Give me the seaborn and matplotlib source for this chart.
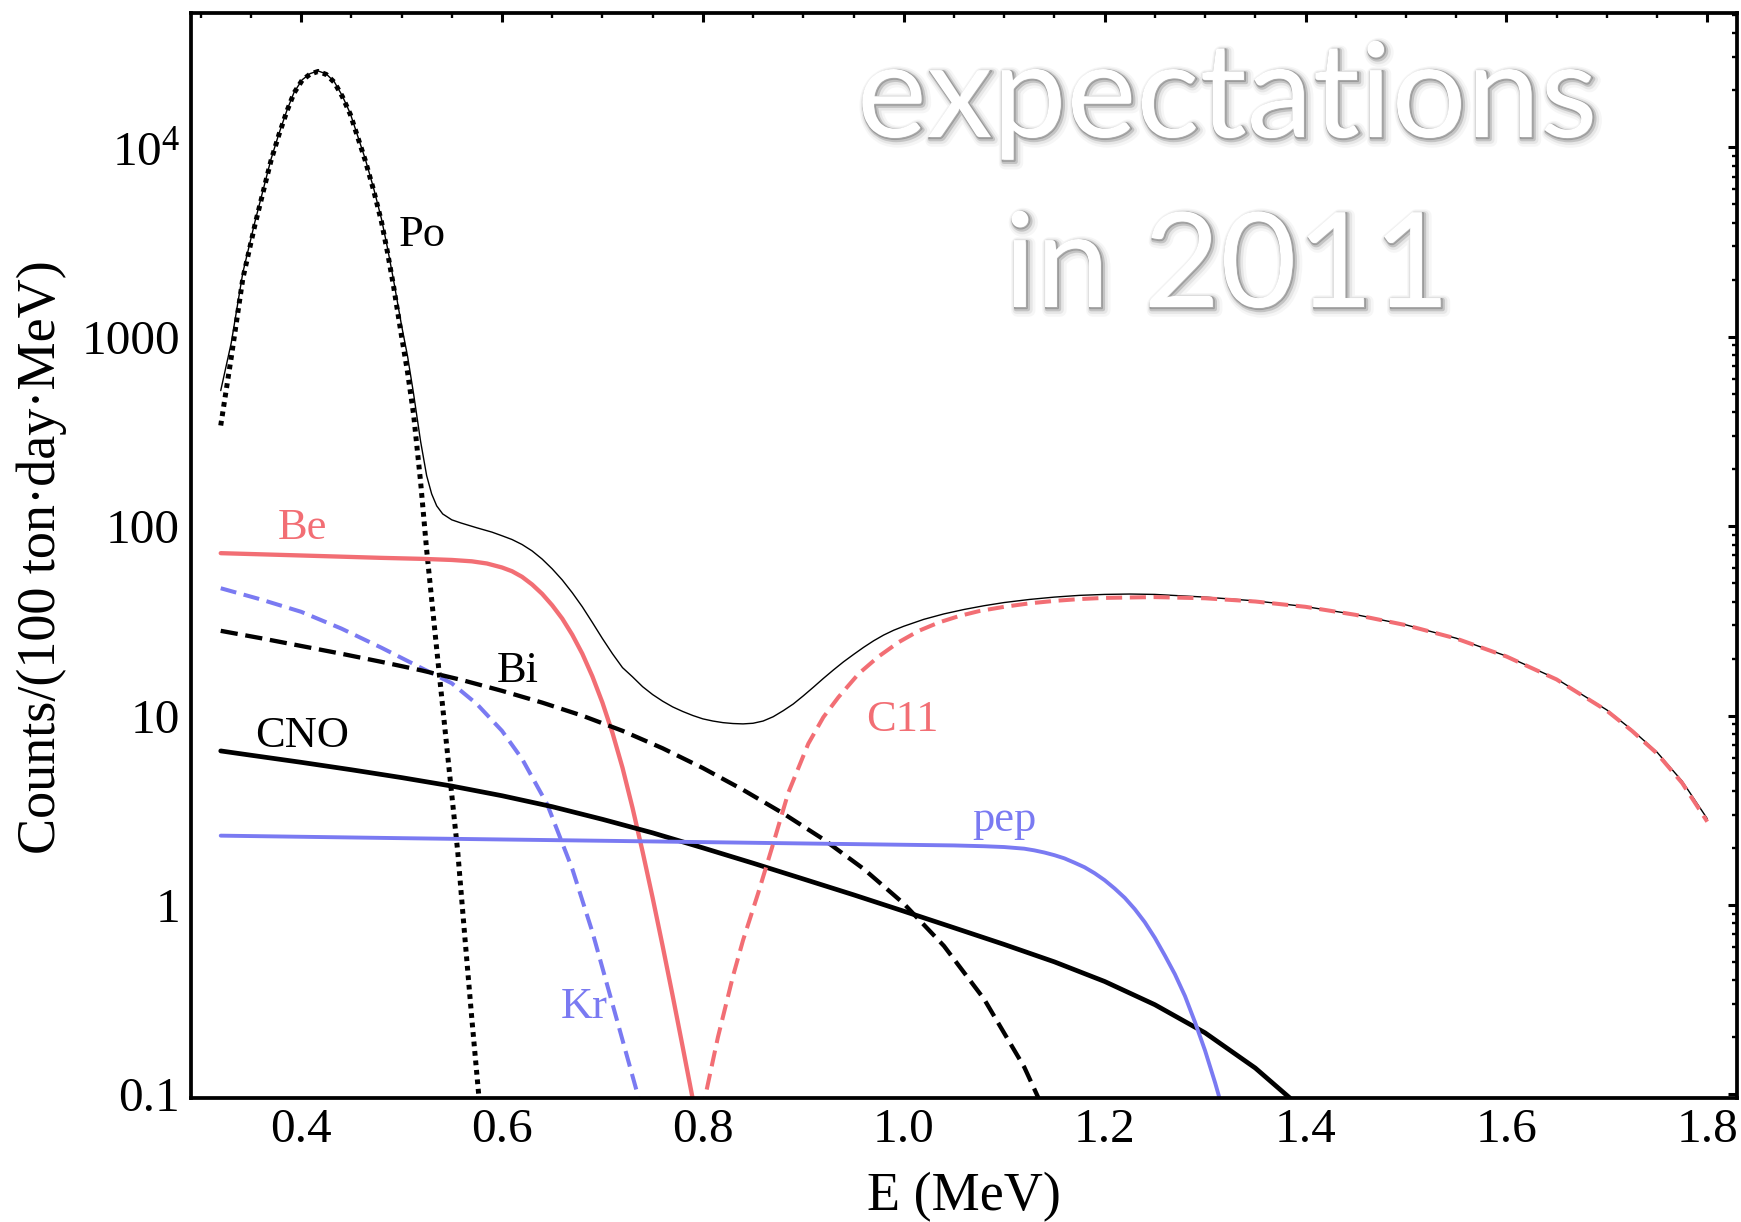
import numpy as np
import pandas as pd
import matplotlib
matplotlib.use("Agg")
import matplotlib.pyplot as plt
import matplotlib.patheffects as pe
from matplotlib.ticker import FixedLocator, FixedFormatter, MultipleLocator, LogLocator, NullFormatter
import seaborn as sns

# ---------------- data ----------------
po_E = [0.320, 0.3305, 0.342, 0.354, 0.3625, 0.370, 0.378, 0.386, 0.393, 0.401, 0.409, 0.417,
        0.425, 0.433, 0.441, 0.449, 0.456, 0.464, 0.472, 0.480, 0.486, 0.492, 0.500, 0.506,
        0.512, 0.519, 0.525, 0.535, 0.549, 0.556, 0.563, 0.570, 0.578]
po_N = [340, 780, 2030, 3890, 5900, 8500, 11700, 15600, 19400, 22600, 24400, 25200,
        24300, 22100, 18600, 14950, 11500, 8500, 6000, 4060, 2800, 1860, 1010, 650,
        390, 171, 75, 22.5, 4.3, 1.9, 0.68, 0.25, 0.085]

be_E = [0.32, 0.36, 0.40, 0.44, 0.48, 0.52, 0.55, 0.57, 0.585, 0.60, 0.61, 0.62, 0.63,
        0.64, 0.65, 0.66, 0.67, 0.68, 0.69, 0.70, 0.71, 0.72, 0.73, 0.74, 0.75, 0.76,
        0.77, 0.78, 0.79]
be_N = [72, 71, 70, 69, 68, 67.2, 66.3, 65.2, 63.5, 60.5, 57.8, 54.0, 49.2,
        43.9, 38.2, 32.5, 26.7, 21.2, 16.1, 11.7, 8.1, 5.3, 3.25, 1.91, 1.09, 0.605,
        0.33, 0.177, 0.094]

kr_E = [0.32, 0.36, 0.40, 0.44, 0.48, 0.52, 0.55, 0.575, 0.60, 0.62, 0.645, 0.67, 0.69,
        0.71, 0.735, 0.745]
kr_N = [47, 41, 35.3, 28.8, 22.8, 17.8, 14.8, 11.5, 8.3, 5.9, 3.4, 1.55, 0.72,
        0.3, 0.1, 0.065]

bi_E = [0.32, 0.36, 0.40, 0.44, 0.48, 0.52, 0.56, 0.60, 0.64, 0.68, 0.72, 0.76, 0.80,
        0.84, 0.88, 0.92, 0.96, 1.00, 1.04, 1.08, 1.12, 1.16]
bi_N = [28.0, 25.6, 23.3, 21.2, 19.2, 17.3, 15.4, 13.5, 11.7, 9.98, 8.30, 6.71, 5.28,
        4.05, 3.04, 2.22, 1.55, 1.016, 0.607, 0.318, 0.139, 0.048]

cno_E = [0.32, 0.35, 0.40, 0.45, 0.50, 0.55, 0.60, 0.65, 0.70, 0.75, 0.80, 0.85, 0.90,
         0.95, 1.00, 1.05, 1.10, 1.15, 1.20, 1.25, 1.30, 1.35, 1.40]
cno_N = [6.5, 6.17, 5.66, 5.17, 4.70, 4.24, 3.77, 3.30, 2.83, 2.40, 2.00, 1.66, 1.37,
         1.13, 0.926, 0.757, 0.618, 0.50, 0.394, 0.297, 0.211, 0.1375, 0.081]

pep_E = [0.32, 0.50, 0.70, 0.90, 1.05, 1.08, 1.10, 1.12, 1.13, 1.14, 1.15, 1.16, 1.17,
         1.18, 1.19, 1.20, 1.21, 1.22, 1.23, 1.24, 1.25, 1.26, 1.27, 1.28, 1.29, 1.30,
         1.31, 1.32]
pep_N = [2.32, 2.25, 2.18, 2.11, 2.06, 2.04, 2.02, 1.98, 1.94, 1.89, 1.83, 1.76, 1.67,
         1.58, 1.47, 1.35, 1.22, 1.09, 0.95, 0.81, 0.67, 0.54, 0.43, 0.33, 0.24, 0.17,
         0.115, 0.075]

c11_E = [0.795, 0.80, 0.815, 0.83, 0.84, 0.855, 0.87, 0.885, 0.905, 0.92, 0.935, 0.955,
         0.975, 0.995, 1.015, 1.035, 1.055, 1.075, 1.10, 1.125, 1.15, 1.175, 1.20, 1.25,
         1.30, 1.35, 1.40, 1.45, 1.50, 1.55, 1.60, 1.65, 1.70, 1.725, 1.75, 1.775, 1.80]
c11_N = [0.06, 0.085, 0.2, 0.42, 0.65, 1.15, 2.1, 3.9, 7.1, 9.8, 12.5, 16.6,
         20.5, 24.4, 28, 31.0, 33.5, 35.6, 37.5, 39.1, 40.3, 41.2, 41.8, 42.2,
         41.6, 40.0, 37.5, 34.0, 30.0, 25.5, 20.5, 15.5, 10.6, 8.3, 6.3, 4.4, 2.75]

tot_E = [0.32, 0.3305, 0.342, 0.354, 0.3625, 0.370, 0.378, 0.386, 0.393, 0.401, 0.409, 0.417,
         0.425, 0.433, 0.441, 0.449, 0.456, 0.464, 0.472, 0.480, 0.486, 0.492, 0.500, 0.506,
         0.512, 0.519, 0.525, 0.530, 0.535, 0.541, 0.55, 0.559, 0.575, 0.59, 0.60, 0.61,
         0.62, 0.63, 0.64, 0.65, 0.66, 0.67, 0.68, 0.69, 0.70, 0.71, 0.72, 0.73, 0.74,
         0.75, 0.76, 0.77, 0.78, 0.79, 0.80, 0.81, 0.82, 0.83, 0.84, 0.85, 0.86, 0.87,
         0.88, 0.89, 0.90, 0.91, 0.92, 0.93, 0.94, 0.95, 0.96, 0.97, 0.98, 0.99, 1.00,
         1.02, 1.04, 1.06, 1.08, 1.10, 1.125, 1.15, 1.175, 1.20, 1.225, 1.25, 1.30, 1.35,
         1.40, 1.45, 1.50, 1.55, 1.60, 1.65, 1.70, 1.725, 1.75, 1.775, 1.80]
tot_N = [520, 930, 2180, 4040, 6050, 8650, 11850, 15750, 19550, 22750, 24550, 25350,
         24450, 22250, 18750, 15100, 11650, 8650, 6150, 4200, 2950, 2000, 1150, 790,
         500, 280, 185, 148, 128, 116, 108, 104, 98, 93, 89, 85,
         80, 74, 67, 59.5, 52, 44.5, 37.5, 31, 25.5, 21.2, 17.9, 16.0, 14.2,
         12.9, 11.9, 11.1, 10.5, 10.0, 9.6, 9.35, 9.17, 9.07, 9.03, 9.1, 9.35, 9.85,
         10.6, 11.5, 12.7, 14.1, 15.7, 17.4, 19.2, 21.0, 22.9, 24.8, 26.6, 28.2, 29.6,
         32.2, 34.4, 36.3, 38.0, 39.5, 41.0, 42.2, 43.1, 43.6, 43.8, 43.6, 42.2, 40.3,
         37.6, 34.1, 30.1, 25.6, 20.6, 15.6, 10.7, 8.4, 6.4, 4.5, 2.85]

x_ticks = [0.4, 0.6, 0.8, 1.0, 1.2, 1.4, 1.6, 1.8]
x_ticklabels = ["0.4", "0.6", "0.8", "1.0", "1.2", "1.4", "1.6", "1.8"]
y_ticks = [0.1, 1, 10, 100, 1000, 10000]
y_ticklabels = ["0.1", "1", "10", "100", "1000", r"$\mathregular{10^4}$"]

labels = ["Po", "Be", "CNO", "Bi", "Kr", "C11", "pep"]

# ---------------- style ----------------
sns.set_theme(style="white")
plt.rcParams["font.family"] = ["Liberation Serif", "DejaVu Serif"]
plt.rcParams["mathtext.fontset"] = "custom"
plt.rcParams["mathtext.rm"] = "Liberation Serif"
plt.rcParams["mathtext.it"] = "Liberation Serif:italic"

RED = "#F26E74"
BLUE = "#7A7AF2"
BLACK = "black"

W, H = 1741, 1222
fig = plt.figure(figsize=(W / 100, H / 100), dpi=100)
fig.patch.set_facecolor("white")
ax = fig.add_axes([191 / W, 1 - 1098 / H, (1737 - 191) / W, (1098 - 13) / H])
ax.set_facecolor("white")

series = [
    (tot_E, tot_N, BLACK, 1.0, "-"),
    (po_E, po_N, BLACK, 3.6, (0, (0.95, 0.95))),
    (be_E, be_N, RED, 3.1, "-"),
    (kr_E, kr_N, BLUE, 2.9, (0, (4.0, 1.9))),
    (bi_E, bi_N, BLACK, 3.1, (0, (4.0, 1.8))),
    (cno_E, cno_N, BLACK, 3.4, "-"),
    (pep_E, pep_N, BLUE, 2.8, "-"),
    (c11_E, c11_N, RED, 2.9, (0, (4.0, 1.9))),
]
for E, N, col, lw, ls in series:
    df = pd.DataFrame({"E": E, "N": N})
    sns.lineplot(data=df, x="E", y="N", ax=ax, color=col, linewidth=lw,
                 linestyle=ls, estimator=None, sort=False)

ax.set_yscale("log")
ax.set_xlim(0.2904, 1.8296)
ax.set_ylim(10 ** -1.02, 10 ** 4.71)
ax.set_xlabel("")
ax.set_ylabel("")

ax.xaxis.set_major_locator(FixedLocator(x_ticks))
ax.xaxis.set_major_formatter(FixedFormatter(x_ticklabels))
ax.xaxis.set_minor_locator(MultipleLocator(0.05))
ax.yaxis.set_major_locator(FixedLocator(y_ticks))
ax.yaxis.set_major_formatter(FixedFormatter(y_ticklabels))
ax.yaxis.set_minor_locator(LogLocator(base=10, subs=np.arange(2, 10), numticks=20))
ax.yaxis.set_minor_formatter(NullFormatter())

ax.tick_params(which="both", direction="in", top=True, right=True, colors="black",
               labelsize=35.5)
ax.tick_params(which="major", length=6.5, width=2.2)
ax.tick_params(which="minor", length=3.6, width=1.7)
ax.tick_params(axis="x", which="major", pad=7)
ax.tick_params(axis="y", which="major", pad=8)
for s in ax.spines.values():
    s.set_visible(True)
    s.set_linewidth(2.7)
    s.set_color("black")
ax.grid(False)

# axis titles
fig.text(42 / W, 1 - 557 / H, "Counts/(100 ton\u00b7day\u00b7MeV)", rotation=90,
         ha="center", va="center", fontsize=39, color="black")
fig.text(964 / W, 1 - 1197 / H, "E (MeV)", ha="center", va="center",
         fontsize=39, color="black")

# curve labels (baseline positions in data coordinates)
lab_pos = [(0.5204, 3015), (0.401, 85.6), (0.401, 6.83), (0.616, 15.0),
           (0.6816, 0.253), (0.999, 8.29), (1.1005, 2.46)]
lab_col = [BLACK, RED, BLACK, BLACK, BLUE, RED, BLUE]
for t, (xx, yy), c in zip(labels, lab_pos, lab_col):
    ax.text(xx, yy, t, ha="center", va="baseline", fontsize=32, color=c)

# overlay caption
shadow = [pe.Stroke(linewidth=9, foreground=(0.5, 0.5, 0.5), alpha=0.07, offset=(2.5, -2.5)),
          pe.Stroke(linewidth=6, foreground=(0.5, 0.5, 0.5), alpha=0.13, offset=(2, -2)),
          pe.Stroke(linewidth=3.2, foreground=(0.45, 0.45, 0.45), alpha=0.3, offset=(1.5, -1.5)),
          pe.Stroke(linewidth=1.5, foreground=(0.4, 0.4, 0.4), alpha=0.45, offset=(0.8, -0.8)),
          pe.Normal()]
renderer = fig.canvas.get_renderer()
t1 = fig.text(1227 / W, 1 - 137 / H, "expectations", ha="center", va="baseline",
              fontsize=100, color="white", family=["Lato", "DejaVu Sans"])
bb = t1.get_window_extent(renderer)
fs = 100 * 741 / bb.width
t1.set_fontsize(fs)
t1.set_path_effects(shadow)
t2 = fig.text(1227 / W, 1 - 307 / H, "in 2011", ha="center", va="baseline",
              fontsize=fs, color="white", family=["Lato", "DejaVu Sans"])
t2.set_path_effects(shadow)

fig.savefig("out.png", dpi=100, facecolor="white")
